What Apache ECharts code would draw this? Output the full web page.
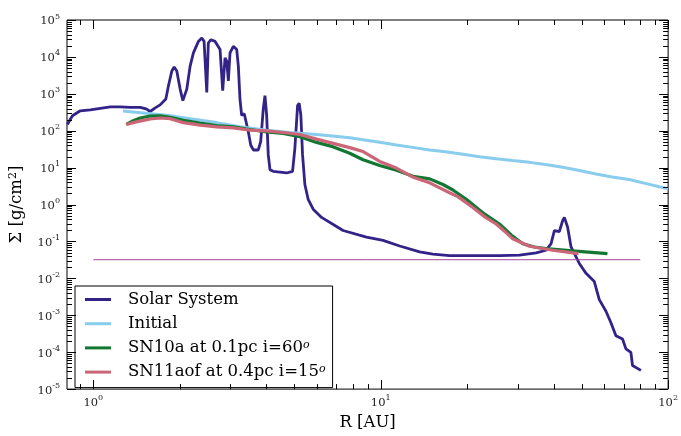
<!DOCTYPE html>
<html><head><meta charset="utf-8">
<script src="https://cdn.jsdelivr.net/npm/echarts@6/dist/echarts.min.js"></script>
<style>html,body{margin:0;padding:0;background:#fff}#c{width:681px;height:436px}</style>
</head><body><div id="c"></div>
<script>
// ---- data ----
const seriesNames = ['Solar System', 'Initial', 'SN10a at 0.1pc i=60o', 'SN11aof at 0.4pc i=15o'];

const solarR = [0.812,0.846,0.901,0.976,1.058,1.146,1.241,1.344,1.456,1.528,
  1.577,1.642,1.708,1.788,1.826,1.876,1.911,1.952,2.005,2.049,
  2.070,2.115,2.172,2.230,2.321,2.385,2.429,2.482,2.513,2.563,
  2.653,2.761,2.820,2.873,2.913,2.950,2.990,3.070,3.155,3.196,
  3.238,3.282,3.351,3.400,3.462,3.529,3.603,3.750,3.823,3.903,
  3.956,4.010,4.062,4.118,4.227,4.707,4.935,5.027,5.137,5.203,
  5.274,5.346,5.446,5.591,5.821,6.225,7.396,8.918,10.19,11.64,
  13.66,15.19,17.36,25.89,30.39,34.73,37.62,39.15,40.20,41.83,
  42.95,43.54,44.70,45.94,49.09,51.8,55.35,57.6,60.77,63.24,
  65.82,69.39,71.3,74.2,75.16,80.4];
const solarSigma = [147,255,347,369,405,444,444,430,430,392,
  332,417,502,726,1648,4150,5310,4150,1343,654,
  593,1343,5640,12880,26300,32400,26300,1097,23830,29170,
  26300,15780,1210,9460,7670,2240,12880,19320,15780,5640,
  726,260,288,260,93.5,41,30.1,30.1,50.5,392,
  890,260,22.1,8.79,7.96,7.17,7.96,33.4,481,557,
  260,22.1,3.49,1.39,0.75,0.449,0.198,0.131,0.107,0.0754,
  0.0521,0.0452,0.0415,0.0415,0.0425,0.049,0.0578,0.0869,0.198,0.186,
  0.366,0.449,0.243,0.0708,0.0253,0.01368,0.0082,0.00266,0.00129,0.00063,
  0.000278,0.000227,0.000123,0.0000993,0.0000438,0.0000322];

const initialR = [1.268,1.456,1.803,2.172,2.689,3.238,4.010,4.831,5.98,6.65,7.80,8.68,9.92,11.34,12.91,14.80,16.82,19.32,22.07,25.22,28.73,32.92,37.41,42.95,49.09,56.1,63.9,73.2,84.6,93.1,100];
const initialSigma = [340,307,262,212,166,129,103,89.5,79.1,73.1,64.6,57.0,48.5,41.2,35.4,30.1,26.9,23.1,19.8,17.3,15.5,13.9,12.1,10.2,8.36,6.74,5.61,4.75,3.64,3.03,2.68];

const sn10aR = [1.302,1.377,1.456,1.577,1.708,1.851,2.058,2.352,2.689,3.07,3.51,4.01,4.58,5.23,5.98,6.81,7.80,8.68,9.92,11.34,12.95,14.80,16.46,17.78,19.85,22.6,25.89,28.5,31.2,34.25,37.62,46.5,61.5];
const sn10aSigma = [149,187,221,250,255,232,191,161,138,127,108,92.3,84.2,68.7,48.3,37,24.6,16.3,11.4,8.47,5.85,4.96,3.49,2.52,1.39,0.611,0.297,0.148,0.0868,0.0708,0.0638,0.0554,0.0469];

const sn11aofR = [1.302,1.399,1.495,1.577,1.708,1.851,2.058,2.352,2.689,3.07,3.51,4.01,4.58,5.23,5.98,6.83,7.80,8.68,9.92,11.34,12.95,14.80,17.36,18.55,20.92,23.15,25.22,26.95,28.8,32.92,39.66,48.8];
const sn11aofSigma = [147,171,191,208,221,212,166,142,127,120,104,99.4,89.5,79,59.1,45.5,34.9,27.3,14.7,9.76,5.5,3.88,2.09,1.64,0.831,0.449,0.297,0.190,0.118,0.074,0.0578,0.0469];

const hLineR = [1, 80];
const hLineSigma = [0.032, 0.032];

const xRange = [0.81, 100];
const yRange = [1e-5, 1e5];
const xDecades = [0.1, 1, 10, 100];
const yDecades = [1e-5,1e-4,1e-3,1e-2,1e-1,1,10,100,1e3,1e4,1e5];
const tickMultipliers = [1,2,3,4,5,6,7,8,9];

// ---- helpers ----
function pairs(a, b) { return a.map((v, i) => [v, b[i]]); }
const serif = 'DejaVu Serif';
function isPow10(v) { const l = Math.log10(v); return Math.abs(l - Math.round(l)) < 1e-6; }
function fmtPow(v) {
  if (!isPow10(v)) return '';
  const e = Math.round(Math.log10(v));
  return '{b|10}{s|' + e + '}';
}
const richLab = {
  b: { fontFamily: serif, fontSize: 11.5, color: '#222', lineHeight: 15, verticalAlign: 'bottom' },
  s: { fontFamily: serif, fontSize: 8, color: '#222', lineHeight: 9, verticalAlign: 'top' }
};

const chart = echarts.init(document.getElementById('c'), null, { renderer: 'canvas' });

const colors = ['#332288', '#88CCEE', '#117733', '#CC6677'];
const widths = [2.8, 3, 3.2, 3.2];
const datasets = [pairs(solarR, solarSigma), pairs(initialR, initialSigma), pairs(sn10aR, sn10aSigma), pairs(sn11aofR, sn11aofSigma)];

const lineSeries = seriesNames.map((n, i) => ({
  name: n, type: 'line', data: datasets[i], symbol: 'none', showSymbol: false,
  color: colors[i], lineStyle: { color: colors[i], width: widths[i] },
  emphasis: { disabled: true }, z: 2 + i, animation: false
}));

lineSeries.push({
  name: 'floor', type: 'line', data: pairs(hLineR, hLineSigma), symbol: 'none',
  lineStyle: { color: '#AA4499', width: 1 }, emphasis: { disabled: true }, z: 8, animation: false
});

lineSeries.push({
  type: 'custom', coordinateSystem: 'cartesian2d', silent: true, z: 10, clip: false,
  data: [[1, 1]], animation: false,
  renderItem: function (params, api) {
    const cs = params.coordSys;
    const x0 = cs.x, x1 = cs.x + cs.width, y0 = cs.y, y1 = cs.y + cs.height;
    const children = [];
    const st = { stroke: '#000', lineWidth: 1 };
    xDecades.forEach(d => tickMultipliers.forEach(k => {
      const v = d * k;
      if (v < xRange[0] - 1e-9 || v > xRange[1] + 1e-9) return;
      const px = Math.round(api.coord([v, 1])[0]) + 0.5;
      const len = k === 1 ? 9 : 5;
      children.push({ type: 'line', shape: { x1: px, y1: y1, x2: px, y2: y1 - len }, style: st });
      children.push({ type: 'line', shape: { x1: px, y1: y0, x2: px, y2: y0 + len }, style: st });
    }));
    yDecades.forEach(d => tickMultipliers.forEach(k => {
      const v = d * k;
      if (v < yRange[0] * 0.999 || v > yRange[1] * 1.001) return;
      const py = Math.round(api.coord([1, v])[1]) + 0.5;
      const len = k === 1 ? 9 : 5;
      children.push({ type: 'line', shape: { x1: x0, y1: py, x2: x0 + len, y2: py }, style: st });
      children.push({ type: 'line', shape: { x1: x1, y1: py, x2: x1 - len, y2: py }, style: st });
    }));
    return { type: 'group', children: children };
  }
});

chart.setOption({
  animation: false,
  backgroundColor: '#fff',
  grid: { left: 67, top: 20, right: 12, bottom: 42, show: true, borderColor: '#000', borderWidth: 1, backgroundColor: 'transparent' },
  xAxis: {
    type: 'log', logBase: 10, min: xRange[0], max: xRange[1],
    axisLine: { show: false }, axisTick: { show: false }, splitLine: { show: false },
    axisLabel: { formatter: fmtPow, rich: richLab, margin: 5, hideOverlap: false },
    name: 'R [AU]', nameLocation: 'middle', nameGap: 24,
    nameTextStyle: { fontFamily: serif, fontSize: 16.5, color: '#000' }
  },
  yAxis: {
    type: 'log', logBase: 10, min: yRange[0], max: yRange[1], interval: 1, splitNumber: 10,
    axisLine: { show: false }, axisTick: { show: false }, splitLine: { show: false },
    axisLabel: { formatter: fmtPow, rich: richLab, margin: 7 },
    name: 'Σ [g/cm{s|2}]', nameLocation: 'middle', nameRotate: 90, nameGap: 42,
    nameTextStyle: { fontFamily: serif, fontSize: 16.5, color: '#000',
      rich: { s: { fontFamily: serif, fontSize: 11, color: '#000', verticalAlign: 'top', lineHeight: 11 } } }
  },
  legend: {
    data: seriesNames, orient: 'vertical', left: 75, top: 286,
    padding: [5, 7, 7, 10], itemWidth: 26, itemHeight: 3, itemGap: 7.2,
    backgroundColor: '#fff', borderColor: '#000', borderWidth: 1, borderRadius: 0,
    icon: 'rect', selectedMode: false,
    textStyle: { fontFamily: serif, fontSize: 16.5, color: '#000', lineHeight: 16.5, padding: [0, 0, 0, 12],
      rich: { o: { fontFamily: serif, fontSize: 11, fontStyle: 'italic', color: '#000', verticalAlign: 'top', lineHeight: 11 } } },
    formatter: function (n) { return n.replace(/(\d)o$/, '$1{o|o}'); }
  },
  series: lineSeries
});
</script>
</body></html>
